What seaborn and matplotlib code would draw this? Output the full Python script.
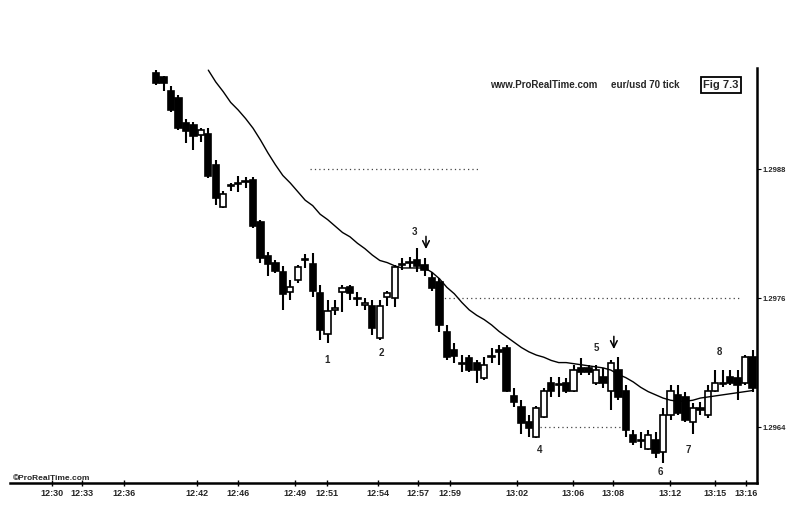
import matplotlib
matplotlib.use('Agg')
import matplotlib.pyplot as plt
import seaborn as sns
import numpy as np

# eur/usd 70 tick candles
open_ = [1.29969, 1.29966, 1.29953, 1.29946, 1.29923, 1.29921, 1.29912, 1.29913, 1.29884, 1.29845,
         1.29864, 1.29866, 1.29869, 1.29870, 1.29831, 1.29799, 1.29793, 1.29784, 1.29766, 1.29777,
         1.29795, 1.29792, 1.29765, 1.29727, 1.29749, 1.29766, 1.29770, 1.29759, 1.29754, 1.29753,
         1.29723, 1.29761, 1.29760, 1.29791, 1.29793, 1.29795, 1.29791, 1.29779, 1.29775, 1.29728,
         1.29712, 1.29700, 1.29704, 1.29700, 1.29686, 1.29705, 1.29712, 1.29714, 1.29669, 1.29659,
         1.29645, 1.29631, 1.29649, 1.29681, 1.29680, 1.29681, 1.29674, 1.29695, 1.29695, 1.29681,
         1.29687, 1.29674, 1.29693, 1.29674, 1.29633, 1.29628, 1.29620, 1.29628, 1.29617, 1.29651,
         1.29670, 1.29668, 1.29645, 1.29658, 1.29651, 1.29674, 1.29681, 1.29687, 1.29686, 1.29681,
         1.29705]
high = [1.29972, 1.29967, 1.29957, 1.29949, 1.29927, 1.29924, 1.29918, 1.29918, 1.29888, 1.29860,
        1.29867, 1.29874, 1.29873, 1.29873, 1.29833, 1.29803, 1.29795, 1.29790, 1.29777, 1.29791,
        1.29801, 1.29802, 1.29772, 1.29758, 1.29758, 1.29772, 1.29772, 1.29766, 1.29760, 1.29758,
        1.29758, 1.29767, 1.29791, 1.29797, 1.29798, 1.29807, 1.29797, 1.29784, 1.29779, 1.29735,
        1.29718, 1.29707, 1.29707, 1.29702, 1.29705, 1.29714, 1.29716, 1.29716, 1.29676, 1.29665,
        1.29651, 1.29660, 1.29676, 1.29687, 1.29687, 1.29686, 1.29698, 1.29704, 1.29698, 1.29698,
        1.29695, 1.29702, 1.29705, 1.29679, 1.29637, 1.29635, 1.29637, 1.29635, 1.29658, 1.29679,
        1.29679, 1.29673, 1.29662, 1.29663, 1.29679, 1.29693, 1.29693, 1.29693, 1.29693, 1.29707,
        1.29712]
low = [1.29958, 1.29953, 1.29933, 1.29916, 1.29904, 1.29898, 1.29905, 1.29872, 1.29847, 1.29844,
       1.29860, 1.29859, 1.29862, 1.29825, 1.29793, 1.29781, 1.29783, 1.29749, 1.29758, 1.29774,
       1.29788, 1.29761, 1.29721, 1.29718, 1.29744, 1.29747, 1.29758, 1.29753, 1.29749, 1.29726,
       1.29721, 1.29753, 1.29752, 1.29786, 1.29788, 1.29784, 1.29781, 1.29767, 1.29728, 1.29702,
       1.29700, 1.29691, 1.29691, 1.29681, 1.29684, 1.29700, 1.29698, 1.29673, 1.29659, 1.29634,
       1.29631, 1.29630, 1.29648, 1.29668, 1.29668, 1.29672, 1.29673, 1.29688, 1.29688, 1.29679,
       1.29676, 1.29656, 1.29665, 1.29631, 1.29623, 1.29621, 1.29619, 1.29611, 1.29607, 1.29647,
       1.29651, 1.29645, 1.29634, 1.29651, 1.29648, 1.29673, 1.29677, 1.29679, 1.29665, 1.29679,
       1.29673]
close = [1.29960, 1.29960, 1.29935, 1.29918, 1.29915, 1.29911, 1.29916, 1.29874, 1.29853, 1.29857,
         1.29865, 1.29867, 1.29868, 1.29827, 1.29797, 1.29792, 1.29785, 1.29764, 1.29770, 1.29789,
         1.29796, 1.29767, 1.29730, 1.29748, 1.29751, 1.29769, 1.29765, 1.29760, 1.29755, 1.29732,
         1.29753, 1.29765, 1.29789, 1.29792, 1.29794, 1.29790, 1.29786, 1.29769, 1.29735, 1.29705,
         1.29706, 1.29699, 1.29693, 1.29693, 1.29698, 1.29706, 1.29710, 1.29674, 1.29663, 1.29644,
         1.29639, 1.29658, 1.29674, 1.29674, 1.29679, 1.29674, 1.29693, 1.29691, 1.29691, 1.29693,
         1.29681, 1.29700, 1.29668, 1.29637, 1.29626, 1.29627, 1.29633, 1.29616, 1.29651, 1.29674,
         1.29653, 1.29647, 1.29658, 1.29656, 1.29674, 1.29681, 1.29680, 1.29681, 1.29679, 1.29705,
         1.29676]

# moving average (starts at candle 7)
ma_start = 7
ma = [1.29972, 1.29961, 1.29952, 1.29942, 1.29935, 1.29927, 1.29918, 1.29907, 1.29895, 1.29884,
      1.29874, 1.29867, 1.29859, 1.29851, 1.29846, 1.29838, 1.29833, 1.29827, 1.29821, 1.29817,
      1.29811, 1.29806, 1.29800, 1.29795, 1.29793, 1.29790, 1.29788, 1.29788, 1.29788, 1.29788,
      1.29784, 1.29778, 1.29770, 1.29764, 1.29756, 1.29749, 1.29744, 1.29740, 1.29735, 1.29729,
      1.29724, 1.29719, 1.29714, 1.29710, 1.29707, 1.29705, 1.29702, 1.29700, 1.29700, 1.29699,
      1.29698, 1.29697, 1.29696, 1.29695, 1.29693, 1.29689, 1.29686, 1.29682, 1.29677, 1.29673,
      1.29670, 1.29667, 1.29665, 1.29664, 1.29664, 1.29665, 1.29667, 1.29668, 1.29669, 1.29670,
      1.29671, 1.29672, 1.29673, 1.29674]

# time axis (candle index where each label sits)
time_pos = [-14, -10, -4.3, 5.5, 11, 18.6, 22.9, 29.8, 35.1, 39.4, 48.4, 55.9, 61.3, 68.9, 74.9, 79.1]
time_labels = ['12:30', '12:33', '12:36', '12:42', '12:46', '12:49', '12:51', '12:54',
               '12:57', '12:59', '13:02', '13:06', '13:08', '13:12', '13:15', '13:16']

price_ticks = [1.2988, 1.2976, 1.2964]
price_labels = ['1.2988', '1.2976', '1.2964']

# dotted levels: price, from candle, to candle
lvl_price = [1.2988, 1.2976, 1.2964]
lvl_from = [20.6, 38.1, 51.5]
lvl_to = [43.4, 78.3, 62.2]

# swing numbers
num_text = ['1', '2', '3', '4', '5', '6', '7', '8']
num_x = [22.9, 30.2, 34.6, 51.5, 59.0, 67.6, 71.4, 75.5]
num_y = [1.29702, 1.29709, 1.29821, 1.29619, 1.29714, 1.29598, 1.29619, 1.29710]

# arrows: candle, from price, to price
arr_x = [36.2, 61.4]
arr_top = [1.29820, 1.29727]
arr_bot = [1.29803, 1.29710]

sns.set_theme(style='white')
plt.rcParams['font.family'] = ['Liberation Sans', 'DejaVu Sans']

fig = plt.figure(figsize=(7.94, 5.08), dpi=100)
ax = fig.add_axes([10/794, 25/508, 747/794, 415/508])

idx = np.arange(len(open_))
for i in idx:
    o, c = open_[i], close[i]
    ax.vlines(i, low[i], high[i], color='black', lw=1.5, zorder=2)
    bottom = min(o, c)
    h = max(abs(c - o), 0.000003)
    face = 'black' if c < o else 'white'
    ax.bar(i, h, bottom=bottom, width=0.85, color=face, edgecolor='black', linewidth=1.2, zorder=3)

ma_x = idx[ma_start:ma_start + len(ma)]
sns.lineplot(x=ma_x, y=ma, color='black', lw=1.0, ax=ax, zorder=4)

for p, a, b in zip(lvl_price, lvl_from, lvl_to):
    ax.hlines(p, a, b, colors='#444444', linestyles=(0, (1, 2.5)), lw=0.9, zorder=1)

for t, x, y in zip(num_text, num_x, num_y):
    ax.text(x, y, t, fontsize=7, fontweight='bold', ha='center', va='center')

for x, t, b in zip(arr_x, arr_top, arr_bot):
    ax.annotate('', xy=(x, b), xytext=(x, t),
                arrowprops=dict(arrowstyle='->', color='black', lw=1.1))

ax.set_xlim(-19.6, 80.6)
ax.set_ylim(1.29588, 1.29974)

for s in ['top', 'left']:
    ax.spines[s].set_visible(False)
ax.spines['bottom'].set_color('black')
ax.spines['bottom'].set_linewidth(1.8)
ax.spines['right'].set_color('black')
ax.spines['right'].set_linewidth(1.8)

ax.set_xticks(time_pos)
ax.set_xticklabels(time_labels, fontsize=6.5, fontweight='bold')
ax.set_yticks(price_ticks)
ax.set_yticklabels(price_labels, fontsize=5.5, fontweight='bold')
ax.yaxis.tick_right()
ax.tick_params(axis='x', direction='inout', length=5, width=1, color='black', pad=2, bottom=True)
ax.tick_params(axis='y', direction='out', length=3, width=0.8, color='black', pad=1, right=True, left=False)
ax.grid(False)

fig.text(490/794, 1 - 85/508, 'www.ProRealTime.com', fontsize=7, fontweight='bold', va='center')
fig.text(611/794, 1 - 85/508, 'eur/usd 70 tick', fontsize=7, fontweight='bold', va='center')
fig.text(721/794, 1 - 85/508, 'Fig 7.3', fontsize=8, fontweight='bold', va='center', ha='center',
         bbox=dict(boxstyle='square,pad=0.25', fc='white', ec='black', lw=1.3))
fig.text(13/794, 1 - 478/508, '\u00a9ProRealTime.com', fontsize=6, fontweight='bold', va='center')

fig.savefig('out.png', dpi=100, facecolor='white')
